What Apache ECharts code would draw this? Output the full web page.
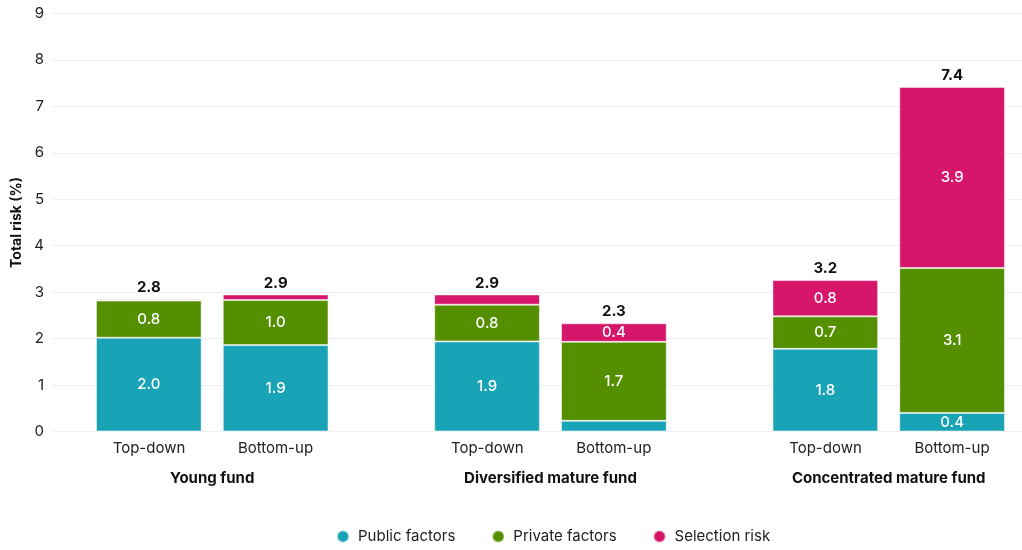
<!DOCTYPE html>
<html>
<head>
<meta charset="utf-8">
<script src="https://cdn.jsdelivr.net/npm/echarts@6/dist/echarts.min.js"></script>
<style>html,body{margin:0;padding:0;background:#fff}#c{width:1022px;height:550px}</style>
</head>
<body>
<div id="c"></div>
<script>
const categories = ['Young fund', 'Diversified mature fund', 'Concentrated mature fund'];
const approaches = ['Top-down', 'Bottom-up'];
const seriesNames = ['Public factors', 'Private factors', 'Selection risk'];
const yTicks = [0, 1, 2, 3, 4, 5, 6, 7, 8, 9];

const publicTopDown = [2.02, 1.94, 1.78];
const privateTopDown = [0.80, 0.79, 0.70];
const selectionTopDown = [0.03, 0.22, 0.78];
const totalTopDown = [2.8, 2.9, 3.2];

const publicBottomUp = [1.86, 0.23, 0.40];
const privateBottomUp = [0.97, 1.70, 3.12];
const selectionBottomUp = [0.12, 0.40, 3.90];
const totalBottomUp = [2.9, 2.3, 7.4];

const colors = ['#19a3b7', '#548f00', '#d6166b'];
const FONT = 'Inter, "Noto Sans", sans-serif';

const stacks = [
  { key: 'td', values: [publicTopDown, privateTopDown, selectionTopDown], totals: totalTopDown },
  { key: 'bu', values: [publicBottomUp, privateBottomUp, selectionBottomUp], totals: totalBottomUp }
];

const series = [];
stacks.forEach(s => {
  s.values.forEach((vals, i) => {
    series.push({
      name: seriesNames[i],
      type: 'bar',
      xAxisIndex: 1, yAxisIndex: 1,
      stack: s.key,
      barWidth: 105.7,
      barGap: '20%',
      data: vals,
      itemStyle: { color: colors[i], borderColor: 'rgba(255,255,255,0.5)', borderWidth: 1 },
      label: {
        show: true, position: 'inside', color: '#fff', fontSize: 15, fontWeight: 500, fontFamily: FONT,
        formatter: p => p.value >= 0.3 ? p.value.toFixed(1) : ''
      },
      emphasis: { disabled: true },
      animation: false
    });
  });
  series.push({
    name: 'total-' + s.key,
    type: 'bar',
    xAxisIndex: 1, yAxisIndex: 1,
    stack: s.key,
    barWidth: 105.7,
    barGap: '20%',
    data: s.totals.map(() => 0),
    itemStyle: { color: 'transparent' },
    label: {
      show: true, position: 'top', distance: 4, color: '#111', fontSize: 15, fontWeight: 'bold', fontFamily: FONT,
      formatter: p => s.totals[p.dataIndex].toFixed(1)
    },
    emphasis: { disabled: true },
    animation: false
  });
});

const chart = echarts.init(document.getElementById('c'));
chart.setOption({
  animation: false,
  color: colors,
  textStyle: { fontFamily: FONT },
  grid: [
    { left: 52, right: 0, top: 13.5, bottom: 118.5, outerBoundsMode: 'none', containLabel: false },
    { left: 43.1, right: -35.85, top: 13.5, bottom: 118.5, outerBoundsMode: 'none', containLabel: false }
  ],
  legend: {
    data: seriesNames,
    left: 331,
    top: 524,
    icon: 'circle',
    itemWidth: 12,
    itemHeight: 12,
    itemGap: 36,
    textStyle: { fontSize: 15, color: '#222', fontFamily: FONT, padding: [0, 0, 0, 4] },
    selectedMode: false
  },
  xAxis: [
    { type: 'value', gridIndex: 0, show: false, min: 0, max: 1 },
    {
      type: 'category', gridIndex: 1, data: categories,
      axisLine: { show: false }, axisTick: { show: false },
      axisLabel: {
        interval: 0, margin: 7,
        formatter: v => '{a|' + approaches[0] + '}{a|' + approaches[1] + '}\n{b|' + v + '}',
        rich: {
          a: { width: 126.5, align: 'center', fontSize: 15, color: '#222', lineHeight: 20, fontFamily: FONT },
          b: { fontSize: 15, fontWeight: 'bold', color: '#111', lineHeight: 40, fontFamily: FONT }
        }
      }
    }
  ],
  yAxis: [
    {
      type: 'value', gridIndex: 0, min: yTicks[0], max: yTicks[yTicks.length - 1], interval: 1,
      name: 'Total risk (%)', nameLocation: 'middle', nameGap: 24, nameRotate: 90,
      nameTextStyle: { fontSize: 14, fontWeight: 'bold', color: '#111', fontFamily: FONT },
      axisLine: { show: false }, axisTick: { show: false },
      axisLabel: { fontSize: 15, color: '#222', margin: 8, fontFamily: FONT },
      splitLine: { lineStyle: { color: '#f0f0f0', width: 1 } }
    },
    { type: 'value', gridIndex: 1, min: 0, max: 9, interval: 1, show: false, splitLine: { show: false } }
  ],
  series: series
});
</script>
</body>
</html>
